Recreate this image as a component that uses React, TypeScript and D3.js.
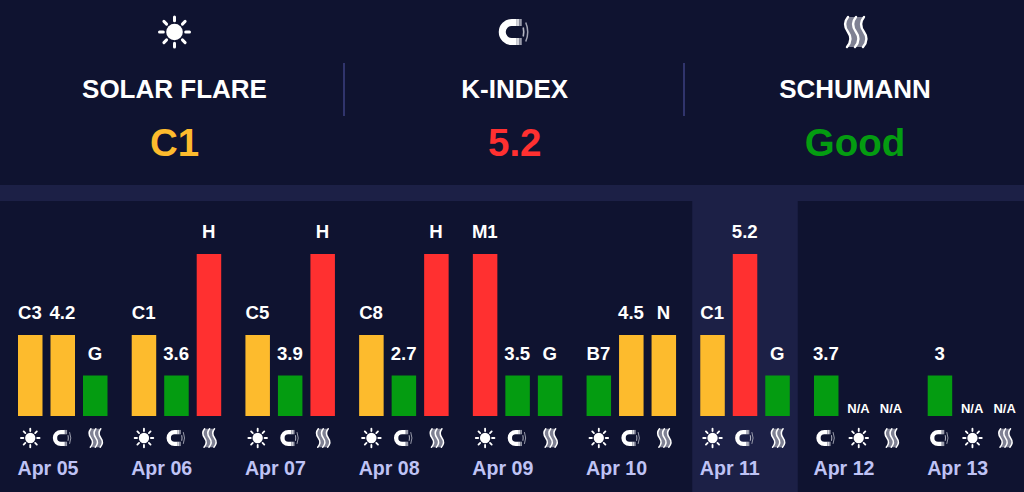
import React from "react";
import * as d3 from "d3";

const days = ["Apr 05","Apr 06","Apr 07","Apr 08","Apr 09","Apr 10","Apr 11","Apr 12","Apr 13"];
const kinds = [
  ["sun","mag","wav"],["sun","mag","wav"],["sun","mag","wav"],["sun","mag","wav"],["sun","mag","wav"],
  ["sun","mag","wav"],["sun","mag","wav"],["mag","sun","wav"],["mag","sun","wav"],
];
const labels = [
  ["C3","4.2","G"],["C1","3.6","H"],["C5","3.9","H"],["C8","2.7","H"],["M1","3.5","G"],
  ["B7","4.5","N"],["C1","5.2","G"],["3.7","N/A","N/A"],["3","N/A","N/A"],
];
// severity level: 0 none, 1 good, 2 moderate, 4 high
const levels = [
  [2,2,1],[2,1,4],[2,1,4],[2,1,4],[4,1,1],[1,2,2],[2,4,1],[1,0,0],[1,0,0],
];
const highlighted = "Apr 11";
const headers = [
  { kind: "sun", title: "SOLAR FLARE", value: "C1", level: 2 },
  { kind: "mag", title: "K-INDEX", value: "5.2", level: 4 },
  { kind: "wav", title: "SCHUMANN", value: "Good", level: 1 },
];

const BG = "#0f1330";
const BAND = "#1c2046";
const colorOf = (l: number) => (l === 4 ? "#ff3030" : l === 2 ? "#fdbb2d" : "#049c11");

const groupX = d3.scalePoint<string>().domain(days).range([18, 927.7]);
const barX = d3.scaleBand<number>().domain([0, 1, 2]).range([0, 89.5]).paddingInner(0.246);
const y = d3.scaleLinear().domain([0, 4]).range([416, 254]);
const headX = d3.scalePoint<number>().domain([0, 1, 2]).range([174.5, 855]);

const wavePath = (x: number) =>
  `M${x + 1} -15 C${x - 4} -9 ${x - 2} -4 ${x + 1} 0 C${x + 4} 4 ${x + 5} 9 ${x} 15`;
const waveBack = (x: number) =>
  `L${x} 15 C${x + 5} 9 ${x + 4} 4 ${x + 1} 0 C${x - 2} -4 ${x - 4} -9 ${x + 1} -15 Z`;

function Icon({ kind, cx, cy, s }: { kind: string; cx: number; cy: number; s: number }) {
  const rays = d3.range(8).map((i) => (i * Math.PI) / 4);
  return (
    <g transform={`translate(${cx},${cy}) scale(${s})`}>
      {kind === "sun" && (
        <g>
          <circle r={8.3} fill="#fff" />
          {rays.map((a, i) => (
            <line key={i} x1={Math.cos(a) * 11.2} y1={Math.sin(a) * 11.2} x2={Math.cos(a) * 15} y2={Math.sin(a) * 15}
              stroke="#fff" strokeWidth={3} strokeLinecap="round" />
          ))}
        </g>
      )}
      {kind === "mag" && (
        <g>
          <path d="M2 -9.5 L-3 -9.5 A9.5 9.5 0 0 0 -3 9.5 L2 9.5" fill="none" stroke="#fff" strokeWidth={7} />
          <rect x={2} y={-13} width={2.5} height={7} fill="#d4d5dc" />
          <rect x={2} y={6} width={2.5} height={7} fill="#d4d5dc" />
          <rect x={4.5} y={-13} width={2.5} height={7} fill="#9a9cab" />
          <rect x={4.5} y={6} width={2.5} height={7} fill="#9a9cab" />
          <path d="M8.5 -4.5 Q9.5 0 8.5 4.5" fill="none" stroke="#b4b6c2" strokeWidth={1.6} />
          <path d="M11 -9.5 Q15 0 11 9.5" fill="none" stroke="#a0a2b2" strokeWidth={1.5} />
        </g>
      )}
      {kind === "wav" && (
        <g>
          <path d={wavePath(-8) + waveBack(0)} fill="#7f8193" />
          <path d={wavePath(0) + waveBack(8)} fill="#7f8193" />
          {[-8, 0, 8].map((o) => (
            <path key={o} d={wavePath(o)} fill="none" stroke="#fff" strokeWidth={2.4} strokeLinecap="round" />
          ))}
        </g>
      )}
    </g>
  );
}

export default function App() {
  const font = "'Liberation Sans', Arial, sans-serif";
  return (
    <svg width={1024} height={492} viewBox="0 0 1024 492" fontFamily={font} fontWeight="bold"
      style={{ position: "absolute", left: 0, top: 0, display: "block" }}>
      <rect width={1024} height={492} fill={BG} />
      <rect y={185} width={1024} height={16} fill={BAND} />
      <rect x={groupX(highlighted)! - 8} y={201} width={105.5} height={291} fill={BAND} />
      {[344, 684].map((x) => (
        <line key={x} x1={x} x2={x} y1={63} y2={116} stroke="#3d4180" strokeWidth={1.5} />
      ))}
      {headers.map((h, i) => (
        <g key={h.title} textAnchor="middle">
          <Icon kind={h.kind} cx={headX(i)!} cy={32} s={1} />
          <text x={headX(i)} y={97.5} fill="#fff" fontSize={26}>{h.title}</text>
          <text x={headX(i)} y={156} fill={colorOf(h.level)} fontSize={38.5}>{h.value}</text>
        </g>
      ))}
      {days.map((d, i) => (
        <g key={d} transform={`translate(${groupX(d)},0)`}>
          {levels[i].map((l, j) => {
            const bx = barX(j)!;
            const w = barX.bandwidth();
            const top = y(l);
            return (
              <g key={j}>
                {l > 0 && <rect x={bx} y={top} width={w} height={y(0) - top} fill={colorOf(l)} />}
                <text x={bx + w / 2 - 0.3} y={l > 0 ? top - 16 : top - 3} textAnchor="middle" fill="#fff"
                  fontSize={labels[i][j] === "N/A" ? 13 : 18.6}>{labels[i][j]}</text>
                <Icon kind={kinds[i][j]} cx={bx + w / 2} cy={438} s={0.62} />
              </g>
            );
          })}
          <text x={-0.5} y={475} fill="#bfc3f5" fontSize={19.6}>{d}</text>
        </g>
      ))}
    </svg>
  );
}
